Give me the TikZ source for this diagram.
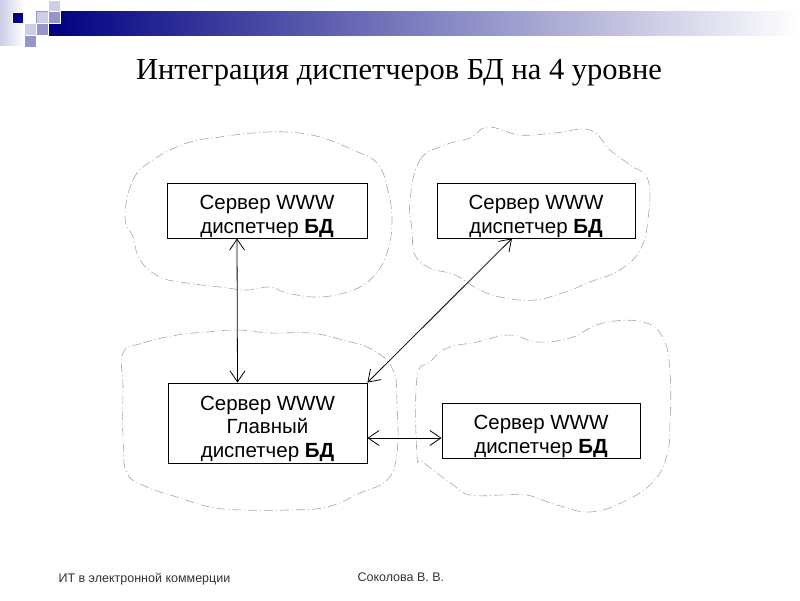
\documentclass[tikz,border=0pt]{standalone}
\usepackage{fontspec}
\setmainfont{Liberation Serif}
\newfontfamily\boxfont{Liberation Sans}
\usetikzlibrary{arrows.meta}
\definecolor{slnavy}{RGB}{0,0,128}
\definecolor{slmid}{RGB}{150,150,200}
\definecolor{slpale}{RGB}{205,205,232}
\newcommand{\srvstrut}{\rule{0pt}{26pt}}
\begin{document}
\begin{tikzpicture}[x=1pt,y=-1pt,
  srvbox/.style={draw=black, line width=0.9pt, inner sep=0pt, align=center, font=\boxfont\fontsize{20.5}{23.5}\selectfont},
  cloudline/.style={draw=gray!70, line width=0.6pt, dash pattern=on 9pt off 3pt on 1pt off 3pt},
  link/.style={line width=0.8pt, {Straight Barb[length=11pt,width=15pt]}-{Straight Barb[length=11pt,width=15pt]}},
  tile/.style={draw=white, line width=0.5pt}]
\useasboundingbox (0,0) rectangle (800,600);
\shade [left color=slpale, right color=white] (0,0) rectangle (24,45);
\shade [left color=slnavy, right color=white] (48,11) rectangle (800,35);
\fill [tile, fill=slnavy] (12,12) rectangle (23,23);
\fill [tile, fill=slpale] (48,0) rectangle (60,11);
\filldraw [tile, fill=slpale, draw=slmid] (36,11) rectangle (48,23);
\fill [tile, fill=slmid] (48,11) rectangle (60,23);
\fill [tile, fill=slpale] (24,23) rectangle (36,35);
\fill [tile, fill=slmid] (36,23) rectangle (48,35);
\fill [tile, fill=slmid] (24,35) rectangle (36,47);
\node (title) at (399,79) [anchor=base, font=\fontsize{30.5}{36}\selectfont] {Интеграция диспетчеров БД на 4 уровне};
\draw [cloudline] plot [smooth cycle, tension=0.7] coordinates {(125,217) (133,180) (153,160) (187,143) (220,137) (253,133) (287,132) (320,137) (353,150) (377,163) (387,187) (392,220) (387,253) (373,277) (353,290) (320,297) (287,293) (270,287) (247,290) (220,287) (187,283) (160,277) (140,260) (133,237)};
\draw [cloudline] plot [smooth cycle, tension=0.7] coordinates {(410,200) (420,160) (445,145) (470,138) (488,127) (520,135) (555,133) (590,130) (610,150) (630,165) (648,180) (648,220) (640,250) (620,270) (590,282) (565,292) (535,300) (505,298) (480,290) (455,275) (430,268) (415,255) (412,230)};
\draw [cloudline] plot [smooth cycle, tension=0.7] coordinates {(123,353) (143,343) (177,335) (207,332) (237,330) (270,333) (310,333) (343,340) (373,350) (393,370) (397,403) (397,453) (387,480) (360,493) (327,507) (287,510) (243,510) (210,507) (177,497) (147,487) (127,473) (123,437) (123,387)};
\draw [cloudline] plot [smooth cycle, tension=0.7] coordinates {(417,378) (417,455) (423,462) (453,485) (470,495) (503,495) (527,495) (557,505) (590,512) (623,502) (653,482) (667,455) (670,422) (670,372) (663,338) (643,322) (603,323) (570,338) (537,342) (510,335) (477,342) (447,348) (430,362)};
\node (srvA) at (267,210.5) [srvbox, minimum width=200pt, minimum height=55pt] {\srvstrut Сервер WWW\\диспетчер \textbf{БД}};
\node (srvB) at (536,210.5) [srvbox, minimum width=198pt, minimum height=55pt] {\srvstrut Сервер WWW\\диспетчер \textbf{БД}};
\node (srvM) at (267.5,423) [srvbox, minimum width=199pt, minimum height=80pt] {\srvstrut Сервер WWW\\Главный\\диспетчер \textbf{БД}};
\node (srvD) at (541,430.5) [srvbox, minimum width=198pt, minimum height=55pt] {\srvstrut Сервер WWW\\диспетчер \textbf{БД}};
\draw [link] ([xshift=-30pt]srvA.south) -- ([xshift=-30pt]srvM.north);
\draw [link] ([xshift=-24pt]srvB.south) -- (srvM.north east);
\draw [link] ([yshift=-15pt]srvM.east) -- ([yshift=-15pt]srvM.east -| srvD.west);
\node (course) at (55,582) [anchor=base west, text=black!80, font=\boxfont\fontsize{12.5}{15}\selectfont] {ИТ в электронной коммерции};
\node (author) at (354,581) [anchor=base west, text=black!80, font=\boxfont\fontsize{12.5}{15}\selectfont] {Соколова В. В.};
\end{tikzpicture}
\end{document}
